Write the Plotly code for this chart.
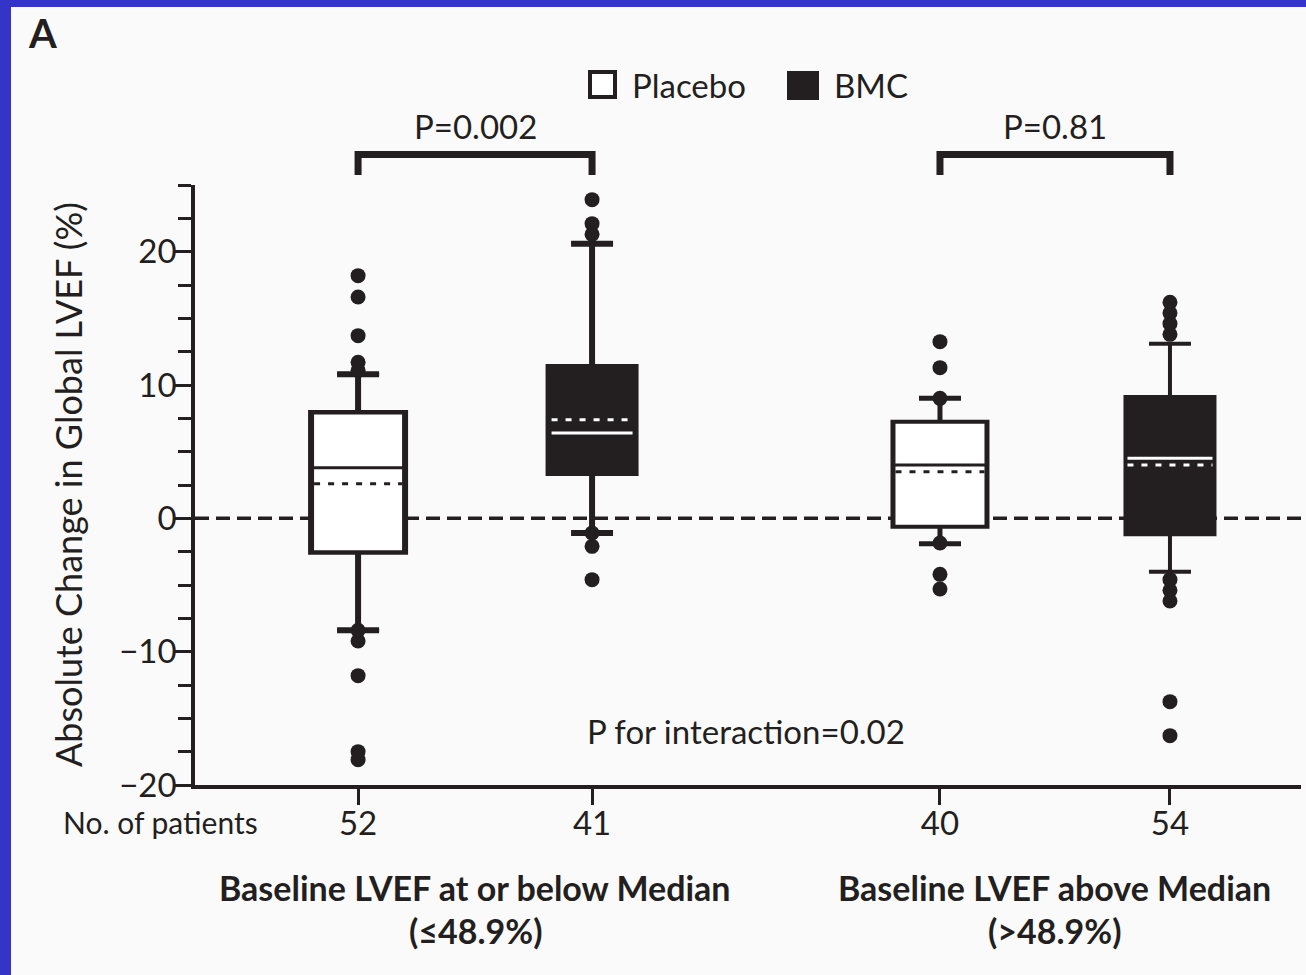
import plotly.graph_objects as go

# ---- figure geometry -------------------------------------------------------
FIG_W, FIG_H = 1306, 975
M_L, M_R, M_T, M_B = 195, 5, 185, 190
PLOT_W = FIG_W - M_L - M_R
PLOT_H = FIG_H - M_T - M_B

INK = "#231f20"
BG = "#fafafa"
FRAME = "#3434c8"
FONT = "Lato"
FS = 33

# ---- data ------------------------------------------------------------------
groups = ["Placebo", "BMC", "Placebo", "BMC"]
patients = ["52", "41", "40", "54"]
positions = [1.0, 2.0, 3.487, 4.47]

q1 = [-2.5, 3.4, -0.6, -1.2]
median = [3.8, 6.4, 4.0, 4.5]
q3 = [7.9, 11.35, 7.2, 9.1]
mean = [2.6, 7.4, 3.5, 4.0]
lower_whisker = [-8.4, -1.1, -1.9, -4.0]
upper_whisker = [10.8, 20.6, 9.0, 13.1]

outliers = [
    [18.2, 16.6, 13.7, 11.7, 11.1, -8.4, -9.2, -11.8, -17.5, -18.1],
    [23.9, 22.1, 21.3, -1.1, -2.1, -4.6],
    [13.25, 11.3, 9.0, -1.85, -4.2, -5.3],
    [16.2, 15.4, 14.6, 13.8, -4.6, -5.4, -6.2, -13.75, -16.3],
]

p_values = ["P=0.002", "P=0.81"]
p_pairs = [(0, 1), (2, 3)]
interaction_text = "P for interaction=0.02"
y_title = "Absolute Change in Global LVEF (%)"
group_labels = [
    ("Baseline LVEF at or below Median", "(≤48.9%)"),
    ("Baseline LVEF above Median", "(>48.9%)"),
]

# ---- styling per box -------------------------------------------------------
X_RANGE = [0.303, 5.03]
Y_RANGE = [-20, 25]
PPU = PLOT_W / (X_RANGE[1] - X_RANGE[0])  # pixels per x unit
BOX_LINE = [6, 6, 5, 4]        # outline / whisker stroke (px)
BOX_PX = [100, 93, 99, 93]     # visible box width (px)
CAP_PX = 42                    # whisker cap length (px)


def px_x(px):
    return (px - M_L) / PLOT_W


def px_y(py):
    return (M_T + PLOT_H - py) / PLOT_H


def x_paper(pos):
    return (pos - X_RANGE[0]) / (X_RANGE[1] - X_RANGE[0])


fig = go.Figure()

for i, pos in enumerate(positions):
    bmc = groups[i] == "BMC"
    lw = BOX_LINE[i]
    w_px = BOX_PX[i] - lw
    fill = INK if bmc else "white"
    stats = dict(
        x=[pos], q1=[q1[i]], median=[median[i]], q3=[q3[i]],
        lowerfence=[lower_whisker[i]], upperfence=[upper_whisker[i]],
        orientation="v", boxpoints=False, hoverinfo="skip", showlegend=False,
    )
    fig.add_trace(go.Box(
        **stats, width=w_px / PPU, whiskerwidth=CAP_PX / w_px,
        fillcolor=fill, line=dict(color=INK, width=lw),
    ))
    if not bmc:
        # thin inner pass so the median stays a fine line inside the thick outline
        w_in = w_px - (lw - 3)
        fig.add_trace(go.Box(
            **stats, width=w_in / PPU, whiskerwidth=CAP_PX / w_in,
            fillcolor="white", line=dict(color=INK, width=3),
        ))

    half = (w_px / 2 - lw / 2) / PPU
    line_col = "white" if bmc else INK
    if bmc:
        fig.add_trace(go.Scatter(
            x=[pos - half, pos + half], y=[median[i], median[i]], mode="lines",
            line=dict(color="white", width=3), hoverinfo="skip", showlegend=False,
        ))
    fig.add_trace(go.Scatter(
        x=[pos - half, pos + half], y=[mean[i], mean[i]], mode="lines",
        line=dict(color=line_col, width=3, dash="6px,8px"),
        hoverinfo="skip", showlegend=False,
    ))

for i, pos in enumerate(positions):
    fig.add_trace(go.Scatter(
        x=[pos] * len(outliers[i]), y=outliers[i], mode="markers",
        marker=dict(color=INK, size=15, symbol="circle", line=dict(width=0)),
        hoverinfo="skip", showlegend=False, cliponaxis=False,
    ))

shapes = []
# panel frame strips (left and top)
shapes.append(dict(type="rect", xref="paper", yref="paper", layer="below",
                   x0=px_x(0), x1=px_x(11), y0=px_y(FIG_H), y1=px_y(0),
                   fillcolor=FRAME, line=dict(width=0)))
shapes.append(dict(type="rect", xref="paper", yref="paper", layer="below",
                   x0=px_x(0), x1=px_x(FIG_W), y0=px_y(7), y1=px_y(0),
                   fillcolor=FRAME, line=dict(width=0)))
# zero reference line
shapes.append(dict(type="line", xref="x domain", yref="y", layer="below",
                   x0=0, x1=1, y0=0, y1=0,
                   line=dict(color=INK, width=3.5, dash="14px,7px")))
# comparison brackets
y_top, y_leg = px_y(154.5), px_y(175)
for (a, b) in p_pairs:
    xa, xb = x_paper(positions[a]), x_paper(positions[b])
    shapes.append(dict(type="path", xref="paper", yref="paper",
                       path=f"M{xa},{y_leg} L{xa},{y_top} L{xb},{y_top} L{xb},{y_leg}",
                       line=dict(color=INK, width=7)))
# legend swatches
shapes.append(dict(type="rect", xref="paper", yref="paper",
                   x0=px_x(590), x1=px_x(615), y0=px_y(97), y1=px_y(72),
                   fillcolor="white", line=dict(color=INK, width=4)))
shapes.append(dict(type="rect", xref="paper", yref="paper",
                   x0=px_x(787), x1=px_x(819), y0=px_y(100), y1=px_y(71),
                   fillcolor=INK, line=dict(width=0)))

txt = dict(family=FONT, size=FS, color=INK)
label_font = dict(family=FONT, size=34, color=INK, weight="bold")
ann = []
ann.append(dict(text="A", xref="paper", yref="paper", x=px_x(26), y=px_y(33),
                xanchor="left", yanchor="middle", showarrow=False,
                font=dict(family=FONT, size=40, color=INK, weight="bold")))
ann.append(dict(text="Placebo", xref="paper", yref="paper", x=px_x(630), y=px_y(85),
                xanchor="left", yanchor="middle", showarrow=False, font=txt))
ann.append(dict(text="BMC", xref="paper", yref="paper", x=px_x(832), y=px_y(85),
                xanchor="left", yanchor="middle", showarrow=False, font=txt))
for (a, b), p in zip(p_pairs, p_values):
    ann.append(dict(text=p, xref="paper", yref="paper",
                    x=(x_paper(positions[a]) + x_paper(positions[b])) / 2, y=px_y(126),
                    xanchor="center", yanchor="middle", showarrow=False, font=txt))
ann.append(dict(text=interaction_text, xref="paper", yref="paper", x=px_x(746), y=px_y(731),
                xanchor="center", yanchor="middle", showarrow=False, font=txt))
ann.append(dict(text=y_title, xref="paper", yref="paper", x=px_x(68), y=0.5,
                xanchor="center", yanchor="middle", textangle=-90, showarrow=False,
                font=dict(family=FONT, size=36, color=INK)))
ann.append(dict(text="No. of patients", xref="paper", yref="paper", x=px_x(61), y=px_y(822),
                xanchor="left", yanchor="middle", showarrow=False,
                font=dict(family=FONT, size=30, color=INK)))
for k, (line1, line2) in enumerate(group_labels):
    a, b = p_pairs[k]
    cx = (x_paper(positions[a]) + x_paper(positions[b])) / 2
    ann.append(dict(text=line1, xref="paper", yref="paper", x=cx, y=px_y(887),
                    xanchor="center", yanchor="middle", showarrow=False, font=label_font))
    ann.append(dict(text=line2, xref="paper", yref="paper", x=cx, y=px_y(930),
                    xanchor="center", yanchor="middle", showarrow=False, font=label_font))

fig.update_layout(
    width=FIG_W, height=FIG_H,
    margin=dict(l=M_L, r=M_R, t=M_T, b=M_B, autoexpand=False),
    paper_bgcolor=BG, plot_bgcolor=BG,
    boxmode="overlay", showlegend=False,
    shapes=shapes, annotations=ann,
    font=dict(family=FONT, size=FS, color=INK),
    xaxis=dict(
        range=X_RANGE, tickmode="array", tickvals=positions, ticktext=patients,
        ticks="outside", ticklen=16, tickwidth=3, tickcolor=INK,
        ticklabelstandoff=-9,
        showline=True, linewidth=3.5, linecolor=INK,
        showgrid=False, zeroline=False, fixedrange=True,
        tickfont=dict(family=FONT, size=FS, color=INK),
    ),
    yaxis=dict(
        range=Y_RANGE, tick0=-20, dtick=10,
        ticks="outside", ticklen=17, tickwidth=3, tickcolor=INK,
        ticklabelstandoff=-9,
        minor=dict(dtick=2.5, tick0=-20, ticks="outside", ticklen=13,
                   tickwidth=3, tickcolor=INK, showgrid=False),
        showline=True, linewidth=3.5, linecolor=INK,
        showgrid=False, zeroline=False, fixedrange=True,
        tickfont=dict(family=FONT, size=FS, color=INK),
    ),
)

fig.write_html("out.html")
